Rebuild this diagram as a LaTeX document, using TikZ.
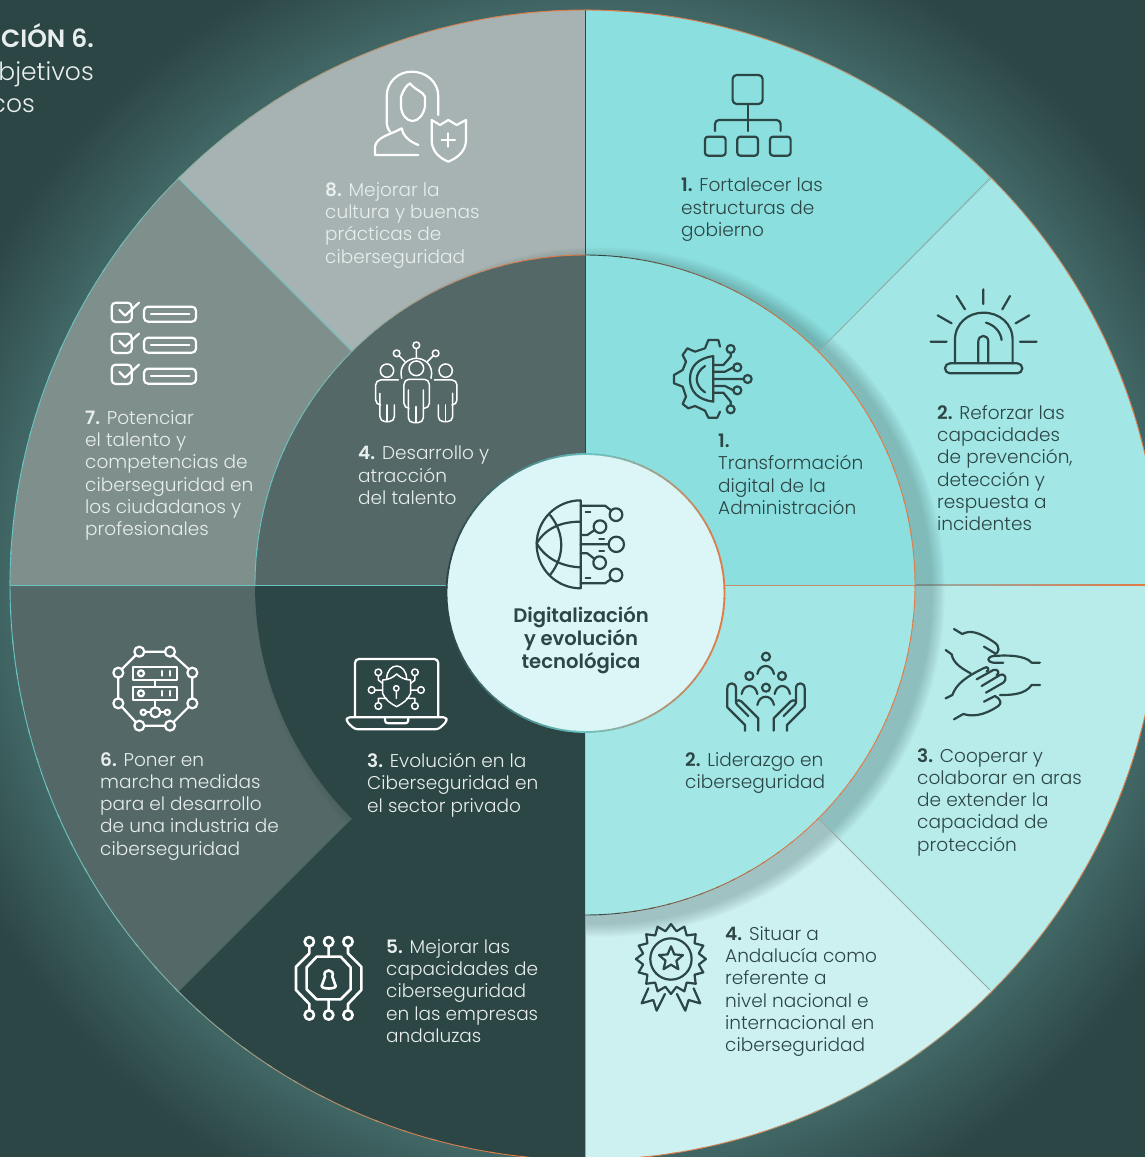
\documentclass[tikz,border=0pt]{standalone}
\usepackage{fontspec}
\usepackage{xcolor}
\usepackage{tikz}
\setmainfont{Poppins}[UprightFont=* Light,BoldFont=* SemiBold]
\definecolor{bgdark}{RGB}{44, 69, 69}
\definecolor{bgglow}{RGB}{68, 108, 106}
\definecolor{secone}{RGB}{140, 223, 223}
\definecolor{sectwo}{RGB}{162, 230, 229}
\definecolor{secthree}{RGB}{183, 236, 234}
\definecolor{secfour}{RGB}{205, 241, 241}
\definecolor{secsix}{RGB}{85, 104, 104}
\definecolor{secseven}{RGB}{127, 143, 140}
\definecolor{seceight}{RGB}{166, 179, 178}
\definecolor{corefill}{RGB}{220, 245, 246}
\definecolor{rimorange}{RGB}{226, 122, 70}
\definecolor{rimteal}{RGB}{105, 196, 196}
\definecolor{rimgrey}{RGB}{150, 170, 165}
\definecolor{textlight}{RGB}{232, 238, 238}
\pgfdeclareradialshading{ringglow}{\pgfpointorigin}{color(0bp)=(bgglow); color(14bp)=(bgglow); color(17bp)=(bgdark); color(50bp)=(bgdark)}
\newcommand{\txtsize}{\fontsize{18.5}{22.3}\selectfont}
\newcommand{\titlesize}{\fontsize{25}{30}\selectfont}
\tikzset{
    darktxt/.style={anchor=north west, inner sep=0pt, align=left, text=bgdark, font=\txtsize},
    lighttxt/.style={darktxt, text=textlight},
    titletxt/.style={lighttxt, anchor=north east, font=\titlesize},
    iconlight/.style={draw=white, line width=2.2pt, line join=round, line cap=round, fill=none},
    icondark/.style={draw=bgdark, line width=2.2pt, line join=round, line cap=round, fill=none},
    smallicon/.style={shift={(#1)}, scale=0.3333},
}
\begin{document}
\begin{tikzpicture}[x=1pt, y=-1pt]
    \useasboundingbox (0,0) rectangle (1145,1157);
    \clip (0,0) rectangle (1145,1157);
    \fill[bgdark] (0,0) rectangle (1145,1157);
    \shade[shading=ringglow] (585,585) circle (1000);
    \coordinate (hub) at (585,585);
    \coordinate (corehub) at (585.5,593);

    \foreach \sa/\col in {-90/secone,-45/sectwo,0/secthree,45/secfour,90/bgdark,135/secsix,180/secseven,225/seceight}
        \fill[\col] (hub) -- ++(\sa:575) arc (\sa:\sa+45:575) -- cycle;

    \foreach \lx in {915,935,...,1135} {
        \pgfmathsetmacro{\linepct}{(\lx-915)/2.2}
        \draw[rimorange!\linepct!rimgrey, line width=1.8pt] (\lx,585) -- (\lx+21,585);
    }

    \begin{scope}
        \clip (hub) circle (575);
        \foreach \r in {332,333,...,345}
            \fill[bgdark, opacity=0.02] (600,592) circle (\r);
    \end{scope}

    \draw[rimgrey, line width=0.8pt] (818,352) -- (990,178);
    \draw[rimgrey, line width=0.8pt] (818,818) -- (990,990);
    \draw[rimteal, line width=0.8pt] (352,350) -- (178,178);
    \draw[bgglow, line width=0.8pt] (352,818) -- (178,990);
    \draw[rimteal, line width=0.8pt] (10,585) -- (255,585);
    \draw[bgdark, line width=1pt] (585,10) -- (585,255);
    \draw[rimgrey, line width=1pt] (585,915) -- (585,1157);

    \foreach \sa/\col in {-90/secone,0/sectwo,90/bgdark,180/secsix}
        \fill[\col] (hub) -- ++(\sa:330) arc (\sa:\sa+90:330) -- cycle;
    \draw[rimteal, line width=0.8pt] (255,585) -- (447,585);
    \draw[rimorange!60!rimgrey, line width=1pt] (723,585) -- (915,585);
    \draw[bgdark, line width=1pt] (585,255) -- (585,454);

    \foreach \a in {-90,-87,...,267} {
        \pgfmathsetmacro{\rimpct}{100*max(cos(\a),abs(sin(\a))^4)}
        \draw[rimorange!\rimpct!rimteal, line width=0.9pt] (hub) ++(\a:575) arc (\a:\a+3.5:575);
    }
    \foreach \a in {-90,-87,...,87} {
        \pgfmathsetmacro{\rimpct}{min(100,150*cos(\a))}
        \draw[rimorange!\rimpct!bgdark, line width=0.9pt] (hub) ++(\a:330) arc (\a:\a+3.5:330);
    }
    \foreach \a in {180,183,...,267} {
        \pgfmathsetmacro{\rimpct}{100*abs(sin(\a))^4}
        \draw[rimorange!\rimpct!rimteal, line width=0.9pt] (hub) ++(\a:330) arc (\a:\a+3.5:330);
    }

    \fill[corefill] (corehub) circle (139);
    \foreach \a in {-90,-86,...,266} {
        \pgfmathsetmacro{\rimpct}{100*abs(cos(\a))}
        \pgfmathparse{cos(\a)>0 ? "rimorange" : "bgdark"}
        \edef\rimcol{\pgfmathresult}
        \draw[\rimcol!\rimpct!rimteal, line width=1.8pt] (corehub) ++(\a:139) arc (\a:\a+4.5:139);
    }

    \node[titletxt] (titleone) at (94,23) {\textbf{CIÓN 6.}};
    \node[titletxt] (titletwo) at (94,61) {bjetivos};
    \node[titletxt] (titlethree) at (35,98) {cos};

    \node[darktxt] (goalone) at (681,178) {\textbf{1.} Fortalecer las\\estructuras de\\gobierno};
    \node[darktxt] (goaltwo) at (937,405) {\textbf{2.} Reforzar las\\capacidades\\de prevención,\\detección y\\respuesta a\\incidentes};
    \node[darktxt] (goalthree) at (917,748) {\textbf{3.} Cooperar y\\colaborar en aras\\de extender la\\capacidad de\\protección};
    \node[darktxt] (goalfour) at (725,926) {\textbf{4.} Situar a\\Andalucía como\\referente a\\nivel nacional e\\internacional en\\ciberseguridad};
    \node[lighttxt] (goalfive) at (386,939) {\textbf{5.} Mejorar las\\capacidades de\\ciberseguridad\\en las empresas\\andaluzas};
    \node[lighttxt] (goalsix) at (100,752) {\textbf{6.} Poner en\\marcha medidas\\para el desarrollo\\de una industria de\\ciberseguridad};
    \node[lighttxt] (goalseven) at (85,410) {\textbf{7.} Potenciar\\el talento y\\competencias de\\ciberseguridad en\\los ciudadanos y\\profesionales};
    \node[lighttxt] (goaleight) at (325,182) {\textbf{8.} Mejorar la\\cultura y buenas\\prácticas de\\ciberseguridad};

    \node[darktxt] (axisone) at (718,434) {\textbf{1.}\\Transformación\\digital de la\\Administración};
    \node[darktxt] (axistwo) at (685,752) {\textbf{2.} Liderazgo en\\ciberseguridad};
    \node[lighttxt] (axisthree) at (367,753) {\textbf{3.} Evolución en la\\Ciberseguridad en\\el sector privado};
    \node[lighttxt] (axisfour) at (358,446) {\textbf{4.} Desarrollo y\\atracción\\del talento};

    \node[darktxt, anchor=north, align=center, font=\bfseries\fontsize{19.6}{23.2}\selectfont] (corelabel) at (581,606) {Digitalización\\y evolución\\tecnológica};

    % org chart, alarm, gear
    \begin{scope}[smallicon={340,50}]
        \draw[icondark, rounded corners=4pt] (1178,75) rectangle (1268,162);
        \draw[icondark] (1223,162) -- (1223,243);
        \draw[icondark, rounded corners=4pt] (1125,243) -- (1125,210) -- (1322,210) -- (1322,243);
        \foreach \bx in {1095,1192,1290}
            \draw[icondark, rounded corners=3pt] (\bx,260) rectangle ++(62,57);
    \end{scope}
    \begin{scope}[smallicon={660,280}]
        \draw[icondark] (885,250) -- (885,180) .. controls (885,130) and (925,98) .. (970,98) .. controls (1018,98) and (1058,130) .. (1058,180) -- (1058,250);
        \draw[icondark, rounded corners=5pt] (855,250) rectangle (1087,280);
        \draw[icondark] (955,250) -- (955,185) .. controls (955,162) and (985,162) .. (985,185) -- (985,250);
        \draw[icondark] (978,128) .. controls (1003,135) and (1022,155) .. (1025,180);
        \draw[icondark] (970,28) -- (970,72) (890,48) -- (915,88) (1050,48) -- (1027,88) (833,106) -- (875,130) (1108,106) -- (1067,130) (812,185) -- (860,185) (1080,185) -- (1130,185);
        \draw[icondark] (180,200) -- (175,180) -- (145,180) -- (135,205) -- (105,215) -- (82,205) -- (68,225) -- (78,245) -- (68,270) -- (42,285) -- (42,310) -- (68,320) -- (78,350) -- (68,372) -- (85,385) -- (105,378) -- (135,392) -- (145,413) -- (172,413) -- (180,395);
        \draw[icondark] (160,228) -- (160,365) .. controls (115,360) and (90,335) .. (90,297) .. controls (90,258) and (115,235) .. (160,228);
        \draw[icondark] (135,258) .. controls (102,280) and (102,315) .. (135,337);
        \foreach \nx/\ny in {212/207,232/262,263/297,232/331,212/388}
            \draw[icondark] (\nx,\ny) circle (12);
        \draw[icondark] (160,255) -- (190,255) -- (212,230) -- (212,219) (160,275) -- (195,275) -- (220,262) (160,297) -- (251,297) (160,318) -- (195,318) -- (220,331) (160,338) -- (190,338) -- (212,365) -- (212,376);
    \end{scope}

    % woman with shield, team
    \begin{scope}[smallicon={340,50}]
        \draw[iconlight] (150,245) .. controls (142,235) and (140,225) .. (140,210) -- (140,140) .. controls (140,95) and (175,65) .. (215,65) .. controls (258,65) and (295,95) .. (295,140) -- (295,195);
        \draw[iconlight] (183,140) .. controls (190,120) and (200,105) .. (210,100) .. controls (225,120) and (250,125) .. (255,140) -- (255,170) .. controls (250,195) and (235,213) .. (218,213) .. controls (200,213) and (185,195) .. (183,170) -- cycle;
        \draw[iconlight] (235,315) -- (105,315) -- (105,290) .. controls (110,260) and (150,255) .. (185,235) .. controls (190,260) and (210,275) .. (235,285);
        \draw[iconlight] (275,210) -- (300,225) -- (325,210) -- (350,225) -- (378,210) -- (378,270) .. controls (378,305) and (350,325) .. (325,335) .. controls (300,325) and (275,305) .. (275,270) -- cycle;
        \draw[iconlight] (325,250) -- (325,290) (305,270) -- (345,270);

        \draw[iconlight, line width=1.5pt] (229,886) circle (10) (170,910) circle (10) (287,910) circle (10);
        \draw[iconlight, line width=1.5pt] (229,896) -- (229,925) (178,918) -- (195,935) (279,918) -- (262,935);
        \draw[iconlight, line width=1.5pt] (185,985) .. controls (175,945) and (205,925) .. (229,925) .. controls (253,925) and (283,945) .. (273,985);
        \draw[iconlight, line width=1.5pt] (229,955) circle (22) (141,962) circle (20) (317,962) circle (20);
        \draw[iconlight, line width=1.5pt, rounded corners=5pt] (205,1020) -- (205,1118) -- (250,1118) -- (250,1020);
        \draw[iconlight, line width=1.5pt, rounded corners=5pt] (205,1075) -- (192,1075) -- (192,988) -- (268,988) -- (268,1075) -- (250,1075);
        \draw[iconlight, line width=1.5pt] (228,1070) -- (228,1118);
        \foreach \sx/\sg in {0/1,458/-1} {
            \draw[iconlight, line width=1.5pt, rounded corners=5pt] (\sx+\sg*120,1030) -- (\sx+\sg*120,1115) -- (\sx+\sg*163,1115) -- (\sx+\sg*163,1065);
            \draw[iconlight, line width=1.5pt, rounded corners=5pt] (\sx+\sg*120,1065) -- (\sx+\sg*107,1065) -- (\sx+\sg*107,990) -- (\sx+\sg*175,990);
            \draw[iconlight, line width=1.5pt] (\sx+\sg*141,1065) -- (\sx+\sg*141,1115);
        }
    \end{scope}

    % checklist
    \begin{scope}[smallicon={90,290}]
        \foreach \dy in {0,93,186} {
            \draw[iconlight, rounded corners=4pt] (65,38+\dy) rectangle (125,96+\dy);
            \draw[iconlight] (88,60+\dy) -- (105,77+\dy) -- (147,38+\dy);
            \draw[iconlight, rounded corners=4pt] (162,50+\dy) rectangle (318,95+\dy);
            \draw[iconlight] (183,72+\dy) -- (298,72+\dy);
        }
    \end{scope}

    % globe with circuit
    \begin{scope}[smallicon={500,480}]
        \draw[icondark] (242,62) -- (242,325) arc (90:270:132);
        \draw[icondark] (110,190) .. controls (140,140) and (190,125) .. (242,125);
        \draw[icondark] (110,190) .. controls (140,240) and (190,260) .. (242,262);
        \draw[icondark] (150,105) .. controls (195,160) and (195,230) .. (150,285);
        \draw[icondark] (348,104) circle (19) (300,140) circle (19) (349,193) circle (23) (299,248) circle (19) (348,285) circle (19);
        \draw[icondark] (242,77) -- (315,77) -- (332,90) (242,165) -- (262,165) -- (284,150) (242,193) -- (326,193) (242,220) -- (262,220) -- (284,237) (242,310) -- (315,310) -- (332,298);
        \draw[icondark] (257,96) -- (271,96) (298,176) -- (312,176) (298,212) -- (312,212) (257,293) -- (271,293);
    \end{scope}

    % server ring, laptop
    \begin{scope}[smallicon={90,630}]
        \draw[iconlight] (148,65) circle (15) (240,65) circle (15) (307,128) circle (15) (307,220) circle (15) (240,287) circle (15) (148,287) circle (15) (85,220) circle (15) (85,128) circle (15);
        \draw[iconlight] (163,65) -- (225,65) (251,76) -- (296,117) (307,143) -- (307,205) (296,231) -- (251,276) (225,287) -- (163,287) (137,276) -- (96,231) (85,205) -- (85,143) (96,117) -- (137,76);
        \draw[iconlight] (130,110) rectangle (262,150) (130,170) rectangle (262,210);
        \draw[iconlight] (153,130) circle (9) (153,190) circle (9);
        \draw[iconlight] (215,123) -- (215,137) (240,123) -- (240,137) (215,183) -- (215,197) (240,183) -- (240,197);
        \draw[iconlight] (196,150) -- (196,170) (196,210) -- (196,232);
        \draw[iconlight] (196,247) circle (15) (160,247) circle (8) (232,247) circle (8);
        \draw[iconlight] (168,247) -- (181,247) (211,247) -- (224,247);

        \draw[iconlight, rounded corners=4pt] (795,260) -- (795,87) -- (1045,87) -- (1045,260);
        \draw[iconlight, rounded corners=3pt] (770,262) -- (1070,262) -- (1070,275) -- (1045,298) -- (795,298) -- (770,275) -- cycle;
        \draw[iconlight, rounded corners=3pt] (885,262) -- (885,280) -- (955,280) -- (955,262);
        \draw[iconlight, line width=1.5pt] (878,150) -- (878,190) .. controls (885,210) and (905,222) .. (920,230) .. controls (935,222) and (955,210) .. (962,190) -- (962,150) .. controls (945,150) and (930,142) .. (920,132) .. controls (910,142) and (895,150) .. (878,150);
        \draw[iconlight, line width=1.5pt] (890,148) .. controls (890,122) and (905,108) .. (920,108) .. controls (935,108) and (950,122) .. (950,148);
        \draw[iconlight, line width=1.5pt] (919,175) circle (8) (865,127) circle (10) (975,127) circle (10) (845,180) circle (10) (993,180) circle (10) (865,228) circle (10) (975,228) circle (10);
        \draw[iconlight, line width=1.5pt] (919,183) -- (919,205) (865,137) -- (865,150) -- (878,160) (975,137) -- (975,150) -- (962,160) (855,180) -- (878,180) (983,180) -- (962,180) (865,218) -- (865,205) -- (890,205) (975,218) -- (975,205) -- (950,205);
    \end{scope}

    % people in hands, handshake
    \begin{scope}[smallicon={700,620}]
        \draw[icondark] (198,110) circle (12) (148,168) circle (12) (246,168) circle (12) (198,203) circle (12);
        \draw[icondark] (172,162) .. controls (178,130) and (216,130) .. (222,162);
        \draw[icondark] (125,222) .. controls (130,190) and (167,190) .. (172,222);
        \draw[icondark] (224,222) .. controls (229,190) and (265,190) .. (270,222);
        \draw[icondark] (172,255) .. controls (178,222) and (216,222) .. (222,255);
        \foreach \sx/\sg in {0/1,396/-1} {
            \draw[icondark] (\sx+\sg*135,332) -- (\sx+\sg*135,315) -- (\sx+\sg*82,262) -- (\sx+\sg*82,205) .. controls (\sx+\sg*82,185) and (\sx+\sg*108,185) .. (\sx+\sg*108,205) -- (\sx+\sg*108,245);
            \draw[icondark] (\sx+\sg*175,332) -- (\sx+\sg*175,295) -- (\sx+\sg*125,245) .. controls (\sx+\sg*115,235) and (\sx+\sg*100,245) .. (\sx+\sg*112,255) -- (\sx+\sg*145,288);
        }
        \draw[icondark] (762,27) -- (787,42) .. controls (810,30) and (835,35) .. (880,65) .. controls (905,80) and (895,100) .. (885,102);
        \draw[icondark] (852,80) -- (885,100);
        \draw[icondark] (1020,128) -- (995,128) .. controls (975,105) and (920,105) .. (880,108) .. controls (860,112) and (860,125) .. (880,128) -- (910,128);
        \draw[icondark] (737,90) -- (755,103) .. controls (760,130) and (785,145) .. (812,160);
        \draw[icondark] (737,235) -- (757,225) .. controls (770,190) and (800,170) .. (850,145) .. controls (865,135) and (870,150) .. (860,155);
        \draw[icondark] (830,178) -- (880,150) .. controls (895,145) and (900,160) .. (890,165);
        \draw[icondark] (845,198) -- (900,165) .. controls (918,158) and (922,180) .. (910,188) -- (858,218);
        \draw[icondark] (852,245) -- (885,228) .. controls (905,240) and (905,250) .. (895,258) .. controls (870,275) and (830,295) .. (790,282) -- (762,298);
        \draw[icondark] (1020,195) -- (995,195) .. controls (975,225) and (930,225) .. (900,225);
    \end{scope}

    % chip with keyhole, award
    \begin{scope}[smallicon={280,910}]
        \draw[iconlight, line width=2.6pt] (110,140) -- (182,140) -- (212,172) -- (212,238) -- (182,268) -- (110,268) -- (80,238) -- (80,172) -- cycle;
        \draw[iconlight, line width=2.6pt] (135,200) .. controls (125,175) and (167,175) .. (157,200) -- (167,228) .. controls (168,238) and (125,238) .. (125,228) -- cycle;
        \draw[iconlight, line width=2.6pt] (88,95) circle (14) (146,95) circle (14) (204,95) circle (14) (88,315) circle (14) (146,315) circle (14) (204,315) circle (14);
        \draw[iconlight, line width=2.6pt] (88,109) -- (88,130) -- (48,170) -- (48,240) -- (88,282) -- (88,301) (146,109) -- (146,140) (146,268) -- (146,301) (204,109) -- (204,130) -- (244,170) -- (244,240) -- (204,282) -- (204,301);

        \draw[icondark, shift={(1173,147)}] plot[variable=\t, samples at={0,1,...,31}] ({\t*11.25}:{105-20*mod(\t,2)}) -- cycle;
        \draw[icondark] (1173,147) circle (62);
        \draw[icondark, shift={(1173,147)}] plot[variable=\t, samples at={0,1,...,9}] ({\t*36-90}:{38-21*mod(\t,2)}) -- cycle;
        \draw[icondark] (1105,235) -- (1085,280) -- (1120,270) -- (1130,302) -- (1155,252);
        \draw[icondark] (1241,235) -- (1261,280) -- (1226,270) -- (1216,302) -- (1191,252);
    \end{scope}
\end{tikzpicture}
\end{document}
